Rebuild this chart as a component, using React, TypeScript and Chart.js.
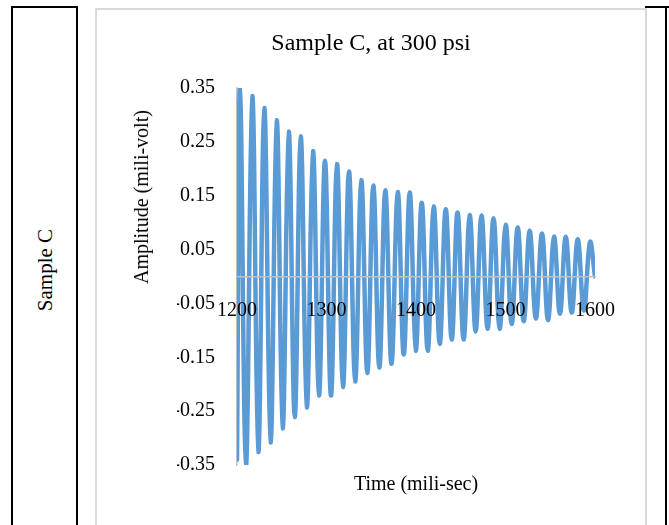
import React, { useEffect, useRef } from 'react';
import { Chart, registerables } from 'chart.js';

Chart.register(...registerables);

const titleText = 'Sample C, at 300 psi';
const rowLabel = 'Sample C';
const xTitle = 'Time (mili-sec)';
const yTitle = 'Amplitude (mili-volt)';

const xTicks = [1200, 1300, 1400, 1500, 1600];
const yTicks = [-0.35, -0.25, -0.15, -0.05, 0.05, 0.15, 0.25, 0.35];

const startPoint = { x: 1200, y: -0.34 };
const endPoint = { x: 1600, y: 0.0 };

const peakTimes = [1203.4, 1217.1, 1230.5, 1244.4, 1257.8, 1271.2, 1284.9, 1298.3, 1311.7, 1325.1, 1338.9, 1352.3, 1365.7, 1379.6, 1393.0, 1406.4, 1419.8, 1433.2, 1446.4, 1460.0, 1473.2, 1486.6, 1500.2, 1513.6, 1527.0, 1540.8, 1554.2, 1567.3, 1580.7, 1594.4];
const peakValues = [0.352, 0.335, 0.313, 0.29, 0.269, 0.26, 0.233, 0.215, 0.209, 0.195, 0.179, 0.169, 0.16, 0.157, 0.156, 0.137, 0.13, 0.125, 0.119, 0.114, 0.113, 0.108, 0.096, 0.091, 0.085, 0.08, 0.074, 0.074, 0.069, 0.064];

const troughTimes = [1210.0, 1223.8, 1237.5, 1251.0, 1264.5, 1278.0, 1291.6, 1305.0, 1318.4, 1332.0, 1345.6, 1359.0, 1372.6, 1386.3, 1399.7, 1413.1, 1426.5, 1439.9, 1453.2, 1466.6, 1480.0, 1493.4, 1506.9, 1520.3, 1533.9, 1547.5, 1560.8, 1574.0, 1587.6];
const troughValues = [-0.351, -0.326, -0.308, -0.282, -0.261, -0.243, -0.221, -0.221, -0.205, -0.195, -0.179, -0.169, -0.162, -0.145, -0.138, -0.138, -0.125, -0.117, -0.117, -0.102, -0.097, -0.097, -0.088, -0.083, -0.078, -0.081, -0.069, -0.067, -0.063];

const FONT = '"Liberation Serif", "Times New Roman", serif';

function buildPoints() {
  const pts: { x: number; y: number }[] = [startPoint];
  peakTimes.forEach((t, i) => pts.push({ x: t, y: peakValues[i] }));
  troughTimes.forEach((t, i) => pts.push({ x: t, y: troughValues[i] }));
  pts.push(endPoint);
  pts.sort((a, b) => a.x - b.x);
  return pts;
}

export default function App() {
  const canvasRef = useRef<HTMLCanvasElement | null>(null);

  useEffect(() => {
    if (!canvasRef.current) return;
    const chart = new Chart(canvasRef.current, {
      type: 'scatter',
      data: {
        datasets: [
          {
            data: buildPoints(),
            showLine: true,
            borderColor: '#5B9BD5',
            backgroundColor: '#5B9BD5',
            borderWidth: 4.5,
            borderJoinStyle: 'round',
            borderCapStyle: 'round',
            pointRadius: 0,
            tension: 0.4,
          },
        ],
      },
      options: {
        animation: false,
        responsive: false,
        maintainAspectRatio: false,
        layout: { padding: { left: 80, right: 51, top: 79, bottom: 60 } },
        plugins: {
          legend: { display: false },
          tooltip: { enabled: false },
          title: { display: false },
        },
        scales: {
          x: {
            type: 'linear',
            position: { y: 0 },
            min: 1200,
            max: 1600,
            afterBuildTicks: (s: any) => {
              s.ticks = xTicks.map((v) => ({ value: v }));
            },
            afterFit: (s: any) => {
              s.height = 0;
            },
            grid: { display: false, drawTicks: false },
            border: { display: true, color: '#bfbfbf', width: 1.5, z: 1 },
            ticks: {
              z: 1,
              color: '#000',
              padding: 22,
              maxRotation: 0,
              autoSkip: false,
              font: { family: FONT, size: 20 },
              callback: (v: any) => String(v),
            },
          },
          y: {
            type: 'linear',
            position: 'left',
            min: -0.35,
            max: 0.35,
            afterBuildTicks: (s: any) => {
              s.ticks = yTicks.map((v) => ({ value: v }));
            },
            afterFit: (s: any) => {
              s.width = 60;
            },
            grid: { display: false, drawTicks: false },
            border: { display: true, color: '#bfbfbf', width: 1.5 },
            ticks: {
              color: '#000',
              padding: 22,
              autoSkip: false,
              font: { family: FONT, size: 20 },
              callback: (v: any) => Number(v).toFixed(2),
            },
          },
        },
      },
    } as any);
    return () => chart.destroy();
  }, []);

  const black = '#000';
  return (
    <div
      style={{
        position: 'fixed',
        left: 0,
        top: 0,
        width: 669,
        height: 525,
        background: '#fff',
        overflow: 'hidden',
        fontFamily: FONT,
        color: '#000',
      }}
    >
      <div style={{ position: 'absolute', left: 11, top: 6, width: 2, height: 519, background: black }} />
      <div style={{ position: 'absolute', left: 76, top: 6, width: 2, height: 519, background: black }} />
      <div style={{ position: 'absolute', left: 665, top: 6, width: 2, height: 519, background: black }} />
      <div style={{ position: 'absolute', left: 11, top: 6, width: 67, height: 2, background: black }} />
      <div style={{ position: 'absolute', left: 645, top: 6, width: 24, height: 2, background: black }} />
      <div
        style={{
          position: 'absolute',
          left: 95,
          top: 8,
          width: 552,
          height: 540,
          border: '2px solid #d9d9d9',
          boxSizing: 'border-box',
          background: '#fff',
        }}
      />
      <div
        style={{
          position: 'absolute',
          left: 45,
          top: 270,
          transform: 'translate(-50%, -50%) rotate(-90deg)',
          whiteSpace: 'nowrap',
          fontSize: 21,
          lineHeight: 1,
        }}
      >
        {rowLabel}
      </div>
      <div style={{ position: 'absolute', left: 97, top: 9, width: 549, height: 516 }}>
        <canvas ref={canvasRef} width={549} height={516} style={{ display: 'block', width: 549, height: 516 }} />
      </div>
      <div
        style={{
          position: 'absolute',
          left: 371,
          top: 42,
          transform: 'translate(-50%, -50%)',
          whiteSpace: 'nowrap',
          fontSize: 24,
          lineHeight: 1,
        }}
      >
        {titleText}
      </div>
      <div
        style={{
          position: 'absolute',
          left: 141,
          top: 197,
          transform: 'translate(-50%, -50%) rotate(-90deg)',
          whiteSpace: 'nowrap',
          fontSize: 20,
          lineHeight: 1,
        }}
      >
        {yTitle}
      </div>
      <div
        style={{
          position: 'absolute',
          left: 416,
          top: 483,
          transform: 'translate(-50%, -50%)',
          whiteSpace: 'nowrap',
          fontSize: 20,
          lineHeight: 1,
        }}
      >
        {xTitle}
      </div>
    </div>
  );
}
